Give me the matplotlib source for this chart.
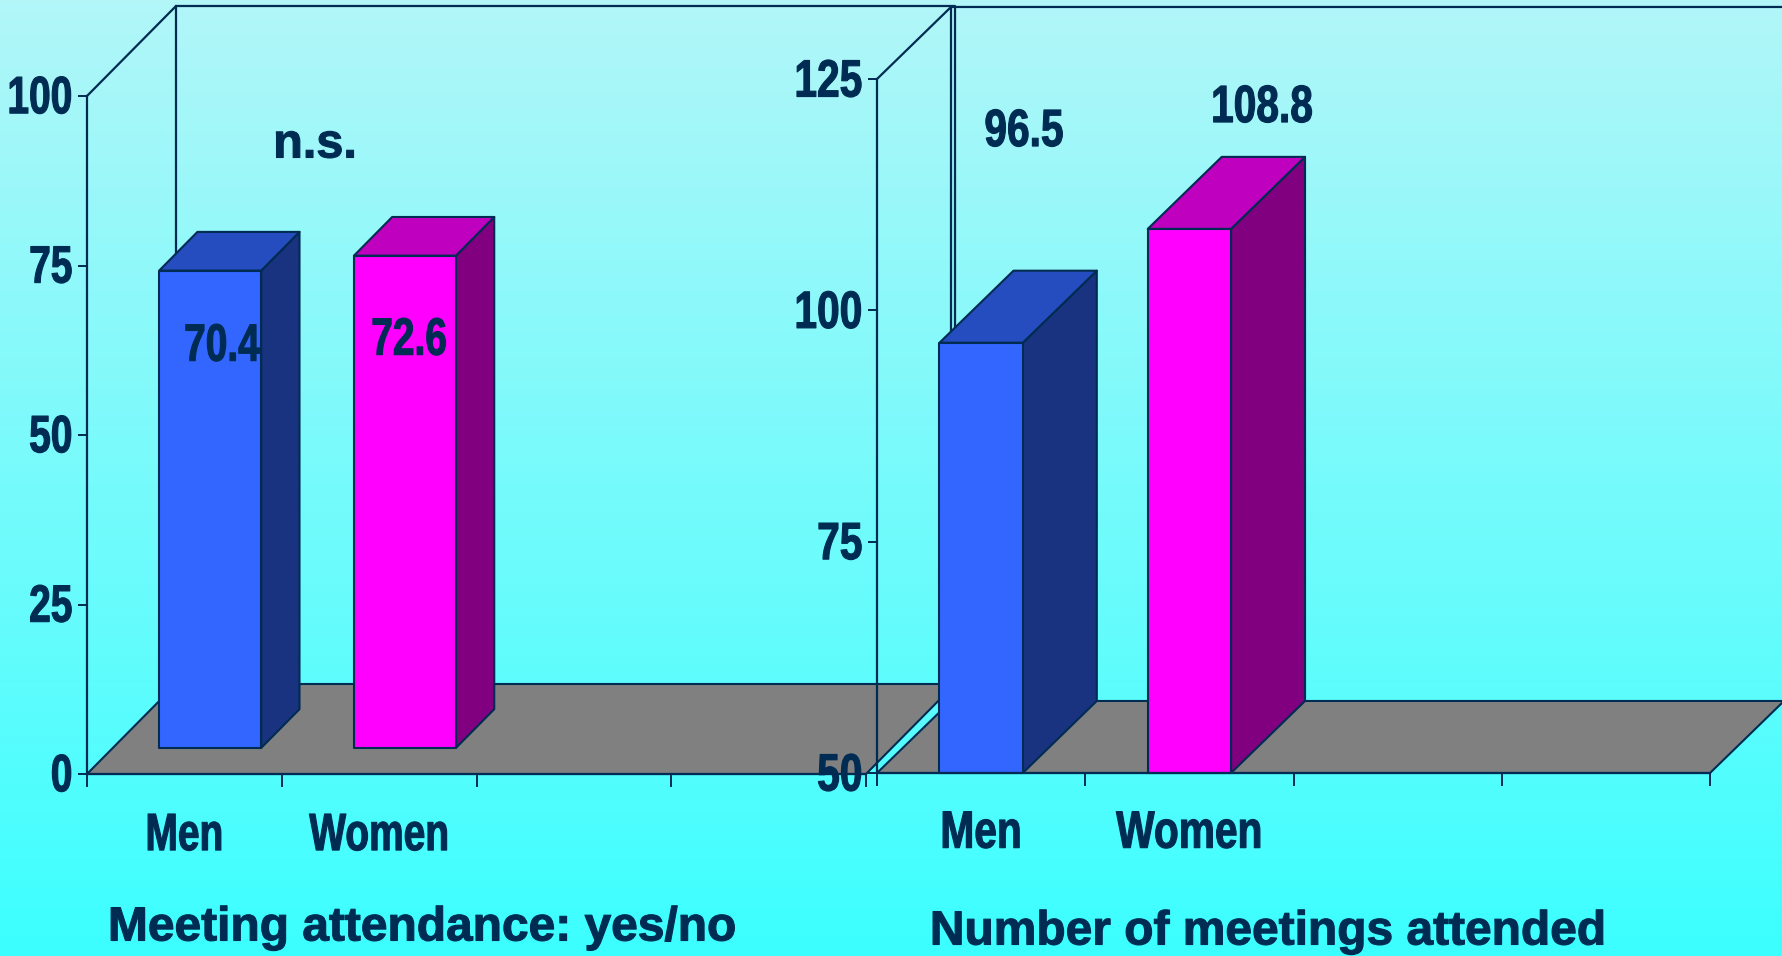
import numpy as np
import matplotlib
matplotlib.use('Agg')
import matplotlib.pyplot as plt
import matplotlib.patheffects as pe
from matplotlib.patches import Polygon
from matplotlib.transforms import Affine2D

W, H = 1782, 956

categories = ['Men', 'Women']
attendance = [70.4, 72.6]
meetings = [96.5, 108.8]
attendance_ticks = [0, 25, 50, 75, 100]
meetings_ticks = [50, 75, 100, 125]

NAVY = '#002b52'
FONT = 'Liberation Sans'
BLUE = ('#3366ff', '#264dbf', '#1a3380')
PINK = ('#ff00ff', '#bf00bf', '#800080')


# the labels in the slide are a squeezed bold face, no narrow font here so stretch the glyphs upward
class TallText(pe.AbstractPathEffect):
    def __init__(self, sy):
        super().__init__()
        self.sy = sy

    def draw_path(self, renderer, gc, tpath, affine, rgbFace=None):
        ext = tpath.get_extents()
        cy = (ext.y0 + ext.y1) / 2
        tall = Affine2D().translate(0, -cy).scale(1, self.sy).translate(0, cy) + affine
        gc0 = renderer.new_gc()
        gc0.copy_properties(gc)
        gc0.set_foreground(rgbFace)
        gc0.set_linewidth(0.8)
        renderer.draw_path(gc0, tpath, tall, rgbFace)
        gc0.restore()


def px_axes(fig, x0, x1, y_bottom, y_top):
    return fig.add_axes([x0 / W, 1 - y_bottom / H, (x1 - x0) / W, (y_bottom - y_top) / H])


# one fake-3D chart: depth d runs 0 (front) to 1 (back wall)
def draw_chart(ax, values, ticks, ddx, ddy, bar_w, d0, d1, label_pad, size, sy):
    ymin, ymax = ticks[0], ticks[-1]
    n = 4
    ax.set_xlim(0, n)
    ax.set_ylim(ymin, ymax)
    ax.patch.set_visible(False)

    def pt(c, v, d):
        return (c + d * ddx, v + d * ddy)

    def poly(points, fc, z):
        ax.add_patch(Polygon(points, closed=True, fc=fc, ec=NAVY, lw=1.5, zorder=z,
                             clip_on=False, joinstyle='round'))

    # floor
    poly([pt(0, ymin, 0), pt(n, ymin, 0), pt(n, ymin, 1), pt(0, ymin, 1)], '#808080', 1)

    # back wall lines
    wall = [pt(0, ymax, 0), pt(0, ymax, 1), pt(n, ymax, 1), pt(n, ymin, 1)]
    ax.plot(*zip(*wall), color=NAVY, lw=1.6, clip_on=False, zorder=2)
    ax.plot(*zip(pt(0, ymax, 1), pt(0, ymin, 1)), color=NAVY, lw=1.6, clip_on=False, zorder=2)

    # bars
    for i, (v, cols) in enumerate(zip(values, (BLUE, PINK))):
        a = i + 0.5 - bar_w / 2
        b = i + 0.5 + bar_w / 2
        poly([pt(b, ymin, d0), pt(b, ymin, d1), pt(b, v, d1), pt(b, v, d0)], cols[2], 3)
        poly([pt(a, v, d0), pt(b, v, d0), pt(b, v, d1), pt(a, v, d1)], cols[1], 3)
        poly([pt(a, ymin, d0), pt(b, ymin, d0), pt(b, v, d0), pt(a, v, d0)], cols[0], 4)

    for s in ('top', 'right'):
        ax.spines[s].set_visible(False)
    for s in ('left', 'bottom'):
        ax.spines[s].set_color(NAVY)
        ax.spines[s].set_linewidth(1.6)
        ax.spines[s].set_zorder(5)

    effect = [TallText(sy)]
    ax.set_yticks(ticks)
    ax.set_yticklabels([str(t) for t in ticks], family=FONT, fontweight='bold',
                       fontsize=size, color=NAVY, path_effects=effect)
    ax.set_xticks(range(n + 1))
    ax.set_xticklabels([])
    ax.set_xticks([i + 0.5 for i in range(len(categories))], minor=True)
    ax.set_xticklabels(categories, minor=True, family=FONT, fontweight='bold',
                       fontsize=size, color=NAVY, path_effects=effect)
    ax.tick_params(axis='y', length=6.5, width=1.4, color=NAVY, pad=4)
    ax.tick_params(axis='x', which='major', length=9, width=1.4, color=NAVY)
    ax.tick_params(axis='x', which='minor', length=0, pad=label_pad)
    # numbers sit a touch above their ticks in the slide
    for tl in ax.get_yticklabels():
        tl.set_y(tl.get_position()[1])
        tl.set_transform(tl.get_transform() + Affine2D().translate(0, 1.5))


def label(fig, x, y, s, size=28, sy=1.0):
    fig.text(x / W, 1 - y / H, s, family=FONT, fontweight='bold', fontsize=size,
             color=NAVY, ha='center', va='center_baseline', zorder=10,
             path_effects=[TallText(sy)])


fig = plt.figure(figsize=(W / 100, H / 100), dpi=100)

# background gradient
bg = fig.add_axes([0, 0, 1, 1], zorder=0)
top_col = np.array([178, 246, 248]) / 255
bot_col = np.array([60, 255, 255]) / 255
t = np.linspace(0, 1, 256)[:, None, None]
bg.imshow(top_col * (1 - t) + bot_col * t, aspect='auto')
bg.axis('off')

ax1 = px_axes(fig, 87, 866, 774, 96)
ax1.set_zorder(1)
draw_chart(ax1, attendance, attendance_ticks, 89 / 194.7, 90 / 6.78, 0.524, 0.29, 0.72, 31.3, 28, 1.35)

ax2 = px_axes(fig, 877, 1710, 773, 79)
ax2.set_zorder(2)
draw_chart(ax2, meetings, meetings_ticks, 74 / 208.2, 72 / 9.25, 0.4, 0.0, 1.0, 29.3, 29.3, 1.29)

# data labels
label(fig, 315, 140, 'n.s.', size=35)
label(fig, 222, 342, '70.4', sy=1.35)
label(fig, 409, 336, '72.6', sy=1.35)
label(fig, 1024, 127, '96.5', size=29.3, sy=1.29)
label(fig, 1262, 103, '108.8', size=29.3, sy=1.29)

label(fig, 422, 923, 'Meeting attendance: yes/no', size=34.5)
label(fig, 1268, 927, 'Number of meetings attended', size=34.5)

fig.savefig('out.png', dpi=100)
